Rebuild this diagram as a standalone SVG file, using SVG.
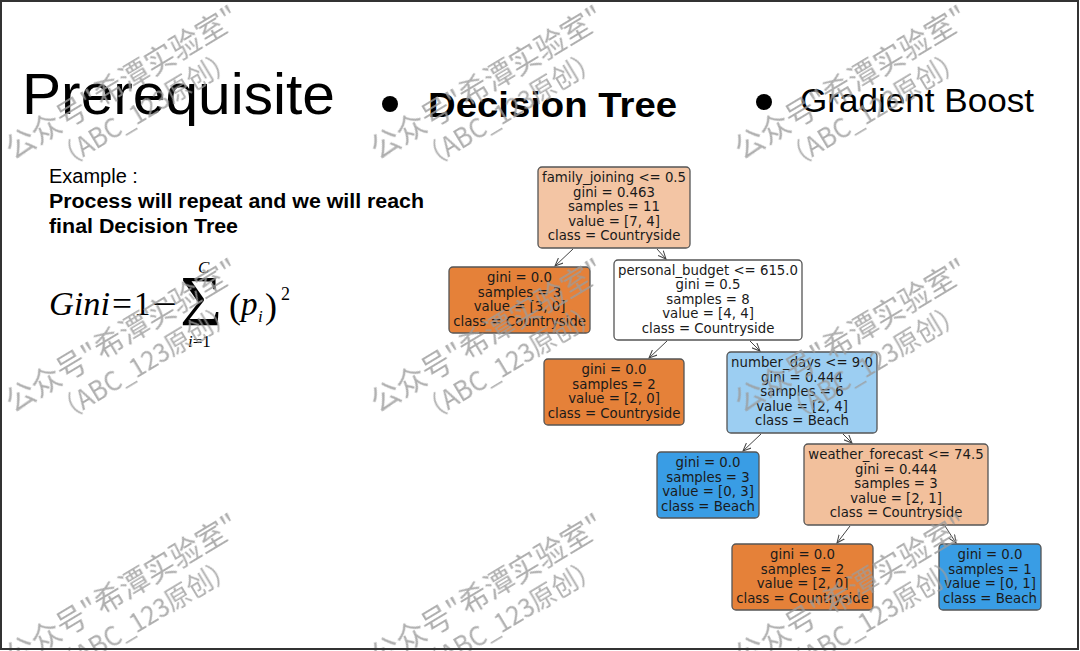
<svg xmlns="http://www.w3.org/2000/svg" xmlns:xlink="http://www.w3.org/1999/xlink" width="1080" height="651" viewBox="0 0 1080 651">
<defs>
<style>
.nt{font-family:"DejaVu Sans",sans-serif;font-size:13.3px;fill:#1a1a1a;text-anchor:middle}
.box{stroke:#555;stroke-width:1.3}
.conn{stroke:#444;stroke-width:1;fill:none;marker-end:url(#ah)}
.wm{font-family:"Noto Sans CJK SC","Noto Sans",sans-serif;fill:#9c9c9c}
.mth{font-family:"Liberation Serif","DejaVu Serif",serif;fill:#000}
</style>
<marker id="ah" markerWidth="9" markerHeight="8" refX="8" refY="4" orient="auto" markerUnits="userSpaceOnUse">
<path d="M0,0.5 L8,4 L0,7.5" fill="none" stroke="#444" stroke-width="1"/>
</marker>
<g id="wmark" transform="rotate(-31)">
<text class="wm" x="0" y="0" font-size="30" textLength="266" lengthAdjust="spacingAndGlyphs">公众号"希潭实验室"</text>
<text class="wm" x="36" y="34" font-size="27" textLength="205" lengthAdjust="spacingAndGlyphs">（ABC_123原创）</text>
</g>
</defs>
<rect x="0" y="0" width="1080" height="651" fill="#fff"/>

<g id="title">
<text x="22" y="114" font-family="Liberation Sans, Arial, sans-serif" font-size="57" textLength="313" lengthAdjust="spacingAndGlyphs" fill="#000">Prerequisite</text>
<circle cx="390" cy="104" r="8" fill="#000"/>
<text x="428" y="117" font-family="Liberation Sans, Arial, sans-serif" font-weight="bold" font-size="35" textLength="249" lengthAdjust="spacingAndGlyphs" fill="#000">Decision Tree</text>
<circle cx="764" cy="102" r="8" fill="#000"/>
<text x="800" y="112" font-family="Liberation Sans, Arial, sans-serif" font-size="34" textLength="234" lengthAdjust="spacingAndGlyphs" fill="#000">Gradient Boost</text>
</g>

<g id="example">
<text x="49" y="183" font-family="Liberation Sans, Arial, sans-serif" font-size="20" fill="#000">Example :</text>
<text x="49" y="208" font-family="Liberation Sans, Arial, sans-serif" font-size="20" font-weight="bold" textLength="375" lengthAdjust="spacingAndGlyphs" fill="#000">Process will repeat and we will reach</text>
<text x="49" y="233" font-family="Liberation Sans, Arial, sans-serif" font-size="20" font-weight="bold" textLength="189" lengthAdjust="spacingAndGlyphs" fill="#000">final Decision Tree</text>
</g>

<g id="formula">
<text class="mth" x="49" y="315" font-size="33" font-style="italic" textLength="61" lengthAdjust="spacingAndGlyphs">Gini</text>
<text class="mth" x="112" y="315" font-size="33" textLength="20" lengthAdjust="spacingAndGlyphs">=</text>
<text class="mth" x="134" y="315" font-size="33">1</text>
<text class="mth" x="152" y="315" font-size="33" textLength="25" lengthAdjust="spacingAndGlyphs">−</text>
<text class="mth" x="180" y="325" font-size="72" textLength="42" lengthAdjust="spacingAndGlyphs">Σ</text>
<text class="mth" x="198" y="273" font-size="17" font-style="italic">C</text>
<text class="mth" x="188" y="347" font-size="17"><tspan font-style="italic">i</tspan>=1</text>
<text class="mth" x="229" y="318" font-size="36">(</text>
<text class="mth" x="241" y="315" font-size="33" font-style="italic">p</text>
<text class="mth" x="258" y="322" font-size="17" font-style="italic">i</text>
<text class="mth" x="265" y="318" font-size="36">)</text>
<text class="mth" x="281" y="300" font-size="18">2</text>
</g>

<g id="connectors">
<line class="conn" x1="573" y1="249" x2="555" y2="266"/>
<line class="conn" x1="657" y1="249" x2="666" y2="259"/>
<line class="conn" x1="667" y1="341" x2="649" y2="358"/>
<line class="conn" x1="750" y1="341" x2="760" y2="351"/>
<line class="conn" x1="761" y1="434" x2="743" y2="451"/>
<line class="conn" x1="843" y1="434" x2="852" y2="443"/>
<line class="conn" x1="850" y1="526" x2="837" y2="543"/>
<line class="conn" x1="945" y1="526" x2="956" y2="543"/>
</g>

<g id="node-root">
<rect class="box" x="538" y="167" width="152" height="81" rx="4" fill="#f3c5a4"/>
<text class="nt" x="614" y="182">family_joining &lt;= 0.5</text>
<text class="nt" x="614" y="196.5">gini = 0.463</text>
<text class="nt" x="614" y="211">samples = 11</text>
<text class="nt" x="614" y="225.5">value = [7, 4]</text>
<text class="nt" x="614" y="240">class = Countryside</text>
</g>

<g id="node-leaf1">
<rect class="box" x="449" y="267" width="141" height="66" rx="4" fill="#e58139"/>
<text class="nt" x="519.5" y="282">gini = 0.0</text>
<text class="nt" x="519.5" y="296.5">samples = 3</text>
<text class="nt" x="519.5" y="311">value = [3, 0]</text>
<text class="nt" x="519.5" y="325.5">class = Countryside</text>
</g>

<g id="node-budget">
<rect class="box" x="614" y="260" width="188" height="80" rx="4" fill="#ffffff"/>
<text class="nt" x="708" y="274.5">personal_budget &lt;= 615.0</text>
<text class="nt" x="708" y="289">gini = 0.5</text>
<text class="nt" x="708" y="303.5">samples = 8</text>
<text class="nt" x="708" y="318">value = [4, 4]</text>
<text class="nt" x="708" y="332.5">class = Countryside</text>
</g>

<g id="node-leaf2">
<rect class="box" x="544" y="359" width="140" height="66" rx="4" fill="#e58139"/>
<text class="nt" x="614" y="374">gini = 0.0</text>
<text class="nt" x="614" y="388.5">samples = 2</text>
<text class="nt" x="614" y="403">value = [2, 0]</text>
<text class="nt" x="614" y="417.5">class = Countryside</text>
</g>

<g id="node-days">
<rect class="box" x="727" y="352" width="150" height="81" rx="4" fill="#9ccef2"/>
<text class="nt" x="802" y="367">number_days &lt;= 9.0</text>
<text class="nt" x="802" y="381.5">gini = 0.444</text>
<text class="nt" x="802" y="396">samples = 6</text>
<text class="nt" x="802" y="410.5">value = [2, 4]</text>
<text class="nt" x="802" y="425">class = Beach</text>
</g>

<g id="node-leaf3">
<rect class="box" x="657" y="452" width="102" height="66" rx="4" fill="#399de5"/>
<text class="nt" x="708" y="467">gini = 0.0</text>
<text class="nt" x="708" y="481.5">samples = 3</text>
<text class="nt" x="708" y="496">value = [0, 3]</text>
<text class="nt" x="708" y="510.5">class = Beach</text>
</g>

<g id="node-weather">
<rect class="box" x="804" y="444" width="184" height="81" rx="4" fill="#f2c09c"/>
<text class="nt" x="896" y="459">weather_forecast &lt;= 74.5</text>
<text class="nt" x="896" y="473.5">gini = 0.444</text>
<text class="nt" x="896" y="488">samples = 3</text>
<text class="nt" x="896" y="502.5">value = [2, 1]</text>
<text class="nt" x="896" y="517">class = Countryside</text>
</g>

<g id="node-leaf4">
<rect class="box" x="732" y="544" width="141" height="66" rx="4" fill="#e58139"/>
<text class="nt" x="802.5" y="559">gini = 0.0</text>
<text class="nt" x="802.5" y="573.5">samples = 2</text>
<text class="nt" x="802.5" y="588">value = [2, 0]</text>
<text class="nt" x="802.5" y="602.5">class = Countryside</text>
</g>

<g id="node-leaf5">
<rect class="box" x="939" y="544" width="102" height="66" rx="4" fill="#399de5"/>
<text class="nt" x="990" y="559">gini = 0.0</text>
<text class="nt" x="990" y="573.5">samples = 1</text>
<text class="nt" x="990" y="588">value = [0, 1]</text>
<text class="nt" x="990" y="602.5">class = Beach</text>
</g>

<g id="watermarks" opacity="0.8">
<use xlink:href="#wmark" href="#wmark" transform="translate(13,160)"/>
<use xlink:href="#wmark" href="#wmark" transform="translate(378,160)"/>
<use xlink:href="#wmark" href="#wmark" transform="translate(742,160)"/>
<use xlink:href="#wmark" href="#wmark" transform="translate(13,413)"/>
<use xlink:href="#wmark" href="#wmark" transform="translate(378,413)"/>
<use xlink:href="#wmark" href="#wmark" transform="translate(742,413)"/>
<use xlink:href="#wmark" href="#wmark" transform="translate(13,668)"/>
<use xlink:href="#wmark" href="#wmark" transform="translate(378,668)"/>
<use xlink:href="#wmark" href="#wmark" transform="translate(742,668)"/>
</g>

<rect x="1" y="1" width="1077" height="648" fill="none" stroke="#333" stroke-width="2"/>
</svg>
